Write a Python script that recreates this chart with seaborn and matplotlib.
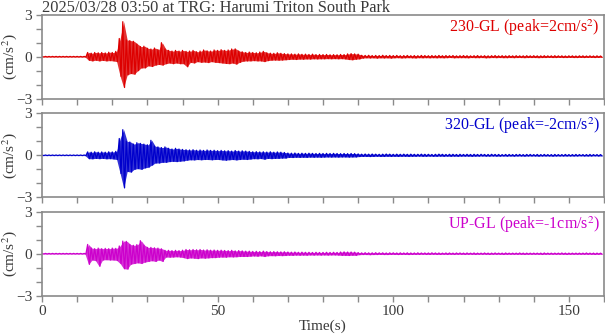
import numpy as np
import pandas as pd
import matplotlib
matplotlib.use("Agg")
import matplotlib.pyplot as plt
from matplotlib.ticker import MultipleLocator, FixedLocator
import seaborn as sns

# ---------------- data ----------------
title = "2025/03/28 03:50 at TRG: Harumi Triton South Park"
channels = ["230-GL", "320-GL", "UP-GL"]
peaks = ["2", "-2", "-1"]
colors = ["#dd0000", "#0000cc", "#cc00cc"]

# 1-second bins, t = 0 .. 159 s
t_bins = list(range(0, 160))

# per-bin maximum / minimum of the trace (cm/s^2)
red_hi = [
    0.02, 0.02, 0.02, 0.02, 0.02, 0.02, 0.02, 0.02, 0.02, 0.02,
    0.02, 0.02, 0.02, 0.30, 0.25, 0.30, 0.28, 0.30, 0.27, 0.32,
    0.30, 0.38, 1.30, 2.50, 1.20, 1.15, 1.10, 0.90, 0.72, 0.75,
    0.60, 0.55, 0.62, 0.50, 1.00, 0.55, 0.45, 0.40, 0.45, 0.40,
    0.45, 0.38, 0.40, 0.45, 0.35, 0.40, 0.48, 0.42, 0.40, 0.48,
    0.45, 0.50, 0.45, 0.48, 0.55, 0.56, 0.40, 0.35, 0.30, 0.33,
    0.30, 0.28, 0.33, 0.38, 0.28, 0.25, 0.24, 0.28, 0.24, 0.22,
    0.20, 0.20, 0.18, 0.20, 0.17, 0.18, 0.16, 0.18, 0.15, 0.16,
    0.15, 0.16, 0.14, 0.15, 0.14, 0.16, 0.15, 0.20, 0.22, 0.20,
    0.18, 0.10, 0.09, 0.10, 0.08, 0.09, 0.08, 0.10, 0.08, 0.09,
    0.08, 0.09, 0.07, 0.08, 0.09, 0.07, 0.08, 0.07, 0.09, 0.08,
    0.07, 0.08, 0.07, 0.09, 0.07, 0.08, 0.07, 0.08, 0.06, 0.07,
    0.08, 0.07, 0.06, 0.07, 0.08, 0.06, 0.07, 0.06, 0.07, 0.08,
    0.06, 0.07, 0.06, 0.07, 0.06, 0.07, 0.06, 0.06, 0.07, 0.06,
    0.07, 0.06, 0.06, 0.07, 0.06, 0.06, 0.07, 0.06, 0.06, 0.05,
    0.06, 0.06, 0.05, 0.06, 0.06, 0.05, 0.06, 0.05, 0.06, 0.05,
]
red_lo = [
    -0.02, -0.02, -0.02, -0.02, -0.02, -0.02, -0.02, -0.02, -0.02, -0.02,
    -0.02, -0.02, -0.02, -0.25, -0.30, -0.25, -0.30, -0.26, -0.30, -0.28,
    -0.30, -0.35, -1.40, -2.20, -1.30, -1.20, -1.25, -1.00, -0.80, -0.80,
    -0.65, -0.70, -0.60, -0.55, -0.60, -0.50, -0.45, -0.50, -0.45, -0.50,
    -0.50, -0.72, -0.40, -0.45, -0.35, -0.40, -0.38, -0.42, -0.35, -0.40,
    -0.42, -0.45, -0.48, -0.50, -0.45, -0.53, -0.40, -0.32, -0.30, -0.30,
    -0.28, -0.30, -0.30, -0.35, -0.28, -0.25, -0.24, -0.25, -0.24, -0.22,
    -0.20, -0.18, -0.20, -0.17, -0.18, -0.16, -0.17, -0.15, -0.16, -0.15,
    -0.15, -0.14, -0.15, -0.14, -0.15, -0.14, -0.16, -0.20, -0.22, -0.18,
    -0.16, -0.10, -0.08, -0.09, -0.08, -0.10, -0.08, -0.09, -0.08, -0.10,
    -0.08, -0.07, -0.09, -0.08, -0.07, -0.08, -0.09, -0.07, -0.08, -0.07,
    -0.08, -0.07, -0.08, -0.07, -0.08, -0.07, -0.06, -0.08, -0.07, -0.07,
    -0.07, -0.08, -0.06, -0.07, -0.07, -0.06, -0.08, -0.07, -0.06, -0.07,
    -0.06, -0.07, -0.07, -0.06, -0.07, -0.06, -0.06, -0.07, -0.06, -0.06,
    -0.06, -0.07, -0.06, -0.06, -0.05, -0.06, -0.06, -0.05, -0.06, -0.06,
    -0.05, -0.06, -0.06, -0.05, -0.06, -0.05, -0.05, -0.06, -0.05, -0.05,
]
blue_hi = [
    0.02, 0.02, 0.02, 0.02, 0.02, 0.02, 0.02, 0.02, 0.02, 0.02,
    0.02, 0.02, 0.02, 0.24, 0.22, 0.25, 0.22, 0.24, 0.22, 0.25,
    0.24, 0.28, 1.20, 1.83, 1.00, 0.95, 0.80, 0.90, 0.85, 0.80,
    0.75, 1.07, 0.65, 0.60, 0.55, 0.60, 0.50, 0.45, 0.50, 0.45,
    0.42, 0.40, 0.38, 0.40, 0.36, 0.38, 0.35, 0.38, 0.35, 0.36,
    0.33, 0.35, 0.32, 0.33, 0.30, 0.34, 0.30, 0.32, 0.30, 0.28,
    0.25, 0.26, 0.24, 0.25, 0.23, 0.25, 0.22, 0.24, 0.22, 0.20,
    0.16, 0.15, 0.16, 0.14, 0.15, 0.14, 0.15, 0.14, 0.13, 0.14,
    0.13, 0.14, 0.13, 0.14, 0.13, 0.12, 0.13, 0.12, 0.13, 0.12,
    0.10, 0.08, 0.09, 0.08, 0.09, 0.08, 0.07, 0.08, 0.09, 0.08,
    0.07, 0.08, 0.07, 0.08, 0.07, 0.08, 0.07, 0.07, 0.08, 0.07,
    0.07, 0.06, 0.07, 0.08, 0.07, 0.06, 0.07, 0.07, 0.06, 0.07,
    0.06, 0.07, 0.06, 0.07, 0.06, 0.07, 0.06, 0.06, 0.07, 0.06,
    0.06, 0.05, 0.06, 0.06, 0.05, 0.06, 0.06, 0.05, 0.06, 0.06,
    0.05, 0.06, 0.05, 0.06, 0.05, 0.05, 0.06, 0.05, 0.05, 0.06,
    0.05, 0.05, 0.06, 0.05, 0.05, 0.05, 0.06, 0.05, 0.05, 0.05,
]
blue_lo = [
    -0.02, -0.02, -0.02, -0.02, -0.02, -0.02, -0.02, -0.02, -0.02, -0.02,
    -0.02, -0.02, -0.02, -0.24, -0.25, -0.22, -0.24, -0.22, -0.25, -0.24,
    -0.26, -0.30, -1.30, -2.33, -1.15, -1.20, -1.00, -0.95, -1.00, -0.90,
    -0.85, -0.70, -0.55, -0.55, -0.50, -0.50, -0.45, -0.43, -0.45, -0.42,
    -0.40, -0.35, -0.32, -0.33, -0.30, -0.32, -0.30, -0.30, -0.32, -0.30,
    -0.30, -0.33, -0.35, -0.32, -0.30, -0.33, -0.30, -0.28, -0.30, -0.27,
    -0.24, -0.25, -0.23, -0.28, -0.22, -0.24, -0.22, -0.22, -0.20, -0.20,
    -0.15, -0.16, -0.14, -0.15, -0.14, -0.15, -0.13, -0.14, -0.13, -0.14,
    -0.13, -0.12, -0.13, -0.12, -0.13, -0.12, -0.12, -0.13, -0.12, -0.12,
    -0.09, -0.08, -0.08, -0.09, -0.08, -0.07, -0.08, -0.08, -0.07, -0.08,
    -0.07, -0.08, -0.07, -0.07, -0.08, -0.07, -0.07, -0.06, -0.07, -0.07,
    -0.06, -0.07, -0.07, -0.06, -0.07, -0.06, -0.07, -0.06, -0.07, -0.06,
    -0.06, -0.06, -0.07, -0.06, -0.06, -0.05, -0.06, -0.06, -0.05, -0.06,
    -0.06, -0.05, -0.06, -0.05, -0.06, -0.05, -0.05, -0.06, -0.05, -0.05,
    -0.05, -0.06, -0.05, -0.05, -0.05, -0.06, -0.05, -0.05, -0.05, -0.05,
    -0.05, -0.05, -0.05, -0.04, -0.05, -0.05, -0.05, -0.04, -0.05, -0.05,
]
mag_hi = [
    0.02, 0.02, 0.02, 0.02, 0.02, 0.02, 0.02, 0.02, 0.02, 0.02,
    0.02, 0.02, 0.02, 0.66, 0.40, 0.36, 0.40, 0.36, 0.38, 0.36,
    0.40, 0.38, 0.55, 0.90, 0.88, 0.65, 0.60, 0.65, 0.93, 0.60,
    0.45, 0.45, 0.42, 0.40, 0.35, 0.24, 0.24, 0.22, 0.24, 0.22,
    0.25, 0.30, 0.28, 0.30, 0.28, 0.30, 0.26, 0.28, 0.25, 0.26,
    0.24, 0.25, 0.23, 0.22, 0.24, 0.20, 0.22, 0.20, 0.18, 0.18,
    0.16, 0.17, 0.15, 0.18, 0.15, 0.14, 0.15, 0.14, 0.13, 0.14,
    0.12, 0.11, 0.12, 0.10, 0.11, 0.10, 0.10, 0.09, 0.10, 0.09,
    0.09, 0.10, 0.09, 0.10, 0.09, 0.12, 0.13, 0.12, 0.12, 0.11,
    0.08, 0.06, 0.07, 0.06, 0.06, 0.07, 0.06, 0.06, 0.05, 0.06,
    0.06, 0.05, 0.06, 0.05, 0.06, 0.05, 0.05, 0.06, 0.05, 0.05,
    0.05, 0.06, 0.05, 0.05, 0.04, 0.05, 0.05, 0.04, 0.05, 0.05,
    0.04, 0.05, 0.04, 0.05, 0.04, 0.04, 0.05, 0.04, 0.04, 0.05,
    0.04, 0.04, 0.05, 0.04, 0.04, 0.04, 0.05, 0.04, 0.04, 0.04,
    0.04, 0.04, 0.04, 0.05, 0.04, 0.04, 0.04, 0.04, 0.05, 0.04,
    0.04, 0.04, 0.04, 0.04, 0.04, 0.05, 0.04, 0.04, 0.04, 0.04,
]
mag_lo = [
    -0.02, -0.02, -0.02, -0.02, -0.02, -0.02, -0.02, -0.02, -0.02, -0.02,
    -0.02, -0.02, -0.02, -0.76, -0.45, -0.50, -0.90, -0.45, -0.43, -0.45,
    -0.45, -0.48, -0.70, -1.07, -1.10, -0.75, -0.70, -0.65, -0.70, -0.60,
    -0.55, -0.50, -0.55, -0.45, -0.55, -0.24, -0.25, -0.24, -0.22, -0.24,
    -0.28, -0.35, -0.30, -0.32, -0.35, -0.30, -0.32, -0.30, -0.28, -0.28,
    -0.25, -0.24, -0.25, -0.22, -0.23, -0.22, -0.20, -0.20, -0.20, -0.18,
    -0.16, -0.18, -0.15, -0.20, -0.15, -0.14, -0.15, -0.13, -0.14, -0.13,
    -0.11, -0.12, -0.10, -0.11, -0.10, -0.11, -0.09, -0.10, -0.09, -0.10,
    -0.09, -0.10, -0.09, -0.09, -0.10, -0.12, -0.12, -0.13, -0.11, -0.12,
    -0.07, -0.06, -0.06, -0.07, -0.06, -0.06, -0.05, -0.06, -0.06, -0.05,
    -0.05, -0.06, -0.05, -0.05, -0.06, -0.05, -0.05, -0.05, -0.04, -0.05,
    -0.05, -0.04, -0.05, -0.05, -0.04, -0.05, -0.04, -0.05, -0.04, -0.04,
    -0.05, -0.04, -0.04, -0.05, -0.04, -0.04, -0.04, -0.05, -0.04, -0.04,
    -0.04, -0.05, -0.04, -0.04, -0.04, -0.04, -0.04, -0.05, -0.04, -0.04,
    -0.04, -0.04, -0.05, -0.04, -0.04, -0.04, -0.04, -0.04, -0.04, -0.05,
    -0.04, -0.04, -0.04, -0.04, -0.04, -0.04, -0.04, -0.05, -0.04, -0.04,
]
his = [red_hi, blue_hi, mag_hi]
los = [red_lo, blue_lo, mag_lo]

x_major = [0, 50, 100, 150]
y_major = [-3, 0, 3]

# ---------------- style ----------------
sns.set_theme(style="white")
plt.rcParams["font.family"] = ["Liberation Serif", "DejaVu Serif"]
plt.rcParams["mathtext.fontset"] = "stix"

TXT = "#3a3a3a"
SPINE = "#8a8a8a"

fig = plt.figure(figsize=(6.05, 3.34), dpi=100)
fig.patch.set_facecolor("white")

left = 42 / 605
width = 562 / 605
bottoms = [1 - 98.7 / 334, 1 - 197.3 / 334, 1 - 295.7 / 334]
height = 84 / 334

for k in range(3):
    ax = fig.add_axes([left, bottoms[k], width, height])
    t = np.asarray(t_bins, dtype=float)
    # envelope of the trace, filled
    ax.fill_between(t + 0.25, los[k], his[k], color=colors[k], lw=0,
                    alpha=0.8)
    # zig-zag between per-bin extremes (trace texture)
    xs = np.column_stack([t, t + 0.5]).ravel()
    ys = np.column_stack([his[k], los[k]]).ravel()
    df = pd.DataFrame({"t": xs, "v": ys})
    sns.lineplot(data=df, x="t", y="v", sort=False, estimator=None,
                 color=colors[k], lw=0.9, ax=ax)
    ax.set_xlim(0, 160)
    ax.set_ylim(-3, 3)
    ax.xaxis.set_major_locator(FixedLocator(x_major))
    ax.xaxis.set_minor_locator(MultipleLocator(10))
    ax.yaxis.set_major_locator(FixedLocator(y_major))
    ax.yaxis.set_minor_locator(MultipleLocator(1))
    ax.tick_params(axis="both", which="both", direction="out", length=4,
                   width=1.0, color=SPINE, labelcolor=TXT, labelsize=11,
                   left=True, bottom=True, pad=3)
    for s in ax.spines.values():
        s.set_visible(True)
        s.set_color(SPINE)
        s.set_linewidth(1.2)
    ax.set_ylabel("(cm/s$^2$)", color=TXT, fontsize=11)
    ax.yaxis.set_label_coords(-0.041, 0.5)
    if k < 2:
        ax.set_xticklabels([])
        ax.set_xlabel("")
    else:
        ax.set_xlabel("Time(s)", color=TXT, fontsize=11, labelpad=1)
    ax.text(0.993, 0.97, f"{channels[k]} (peak={peaks[k]}cm/s$^2$)",
            transform=ax.transAxes, ha="right", va="top",
            color=colors[k], fontsize=11.5)

fig.text(42 / 605, 1 - 0.5 / 334, title, ha="left", va="top",
         color=TXT, fontsize=11.8)

fig.savefig("out.png", dpi=100, facecolor="white")
